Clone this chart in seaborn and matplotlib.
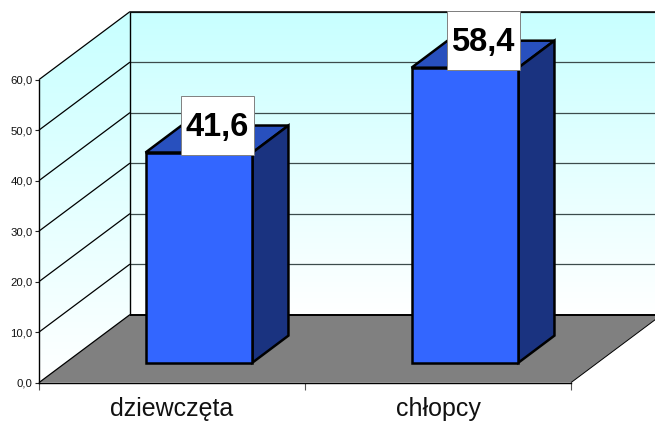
import numpy as np
import pandas as pd
import matplotlib
matplotlib.use('Agg')
import matplotlib.pyplot as plt
import seaborn as sns
from matplotlib.colors import LinearSegmentedColormap
from matplotlib.patches import Polygon, Rectangle
from matplotlib.transforms import Affine2D, IdentityTransform

categories = ['dziewczęta', 'chłopcy']
values = [41.6, 58.4]
value_labels = ['41,6', '58,4']
y_ticks = [0, 10, 20, 30, 40, 50, 60]
y_tick_labels = ['0,0', '10,0', '20,0', '30,0', '40,0', '50,0', '60,0']

# depth of the fake 3d box, in pixels
DX, DY = 91, 68
BAR_DX, BAR_DY = 27, 20
SIDE_DX, SIDE_DY = 36, 27

sns.set_style('white')
plt.rcParams['font.family'] = ['Liberation Sans', 'DejaVu Sans']

fig = plt.figure(figsize=(6.55, 4.21), dpi=100)
ax = fig.add_axes([39 / 655, (421 - 382.6) / 421, 532 / 655, 303 / 421])

df = pd.DataFrame({'group': categories, 'value': values})
sns.barplot(data=df, x='group', y='value', color='#3366FF', saturation=1,
            width=0.402, ax=ax, zorder=5)
ax.set_xlim(-0.5, 1.5)
ax.set_ylim(0, 60)
ax.set_xlabel('')
ax.set_ylabel('')
ax.patch.set_visible(False)


def px(x, y, dx=0, dy=0):
    # data point -> display pixels, with an optional depth shift
    p = ax.transData.transform((x, y))
    return (p[0] + dx, p[1] + dy)


def poly(points, **kw):
    kw.setdefault('clip_on', False)
    patch = Polygon(points, closed=True, transform=IdentityTransform(), **kw)
    ax.add_patch(patch)
    return patch


def line(a, b, color='black', lw=0.9, z=2):
    ax.plot([a[0], b[0]], [a[1], b[1]], color=color, lw=lw, zorder=z,
            transform=IdentityTransform(), clip_on=False, solid_capstyle='butt')


x0, x1 = ax.get_xlim()
y0, y1 = ax.get_ylim()

# walls, light cyan fading to white
cmap = LinearSegmentedColormap.from_list('wall', ['#C8FFFF', '#FFFFFF'])
grad = np.linspace(0, 1, 256).reshape(-1, 1)
back_tr = ax.transData + Affine2D().translate(DX, DY)
ax.imshow(grad, cmap=cmap, aspect='auto', extent=(x0, x1, y0, y1), origin='upper',
          transform=back_tr, zorder=0, clip_on=False)
side_pts = [px(x0, y0), px(x0, y0, DX, DY), px(x0, y1, DX, DY), px(x0, y1)]
side_w = (x1 - x0) * DX / 532
side_h = 60 * (303 + DY) / 303
side_img = ax.imshow(grad, cmap=cmap, aspect='auto', origin='upper',
                     extent=(x0, x0 + side_w, y0, side_h), zorder=0)
side_img.set_clip_box(fig.bbox)
side_img.set_clip_path(Polygon(side_pts, closed=True, transform=IdentityTransform()))
ax.set_xlim(x0, x1)
ax.set_ylim(y0, y1)
ax.set_aspect('auto')

# floor
poly([px(x0, y0), px(x1, y0), px(x1, y0, DX, DY), px(x0, y0, DX, DY)],
     facecolor='#808080', edgecolor='none', zorder=1)
line(px(x0, y0, DX, DY), px(x1, y0, DX, DY), lw=1.4)
line(px(x1, y0), px(x1, y0, DX, DY), lw=0.7)

# gridlines over both walls
for t in y_ticks[1:]:
    line(px(x0, t), px(x0, t, DX, DY))
    line(px(x0, t, DX, DY), px(x1, t, DX, DY), color='#3c4c4c')
line(px(x0, y1, DX, DY), px(x1, y1, DX, DY), color='black', lw=1.1)
line(px(x0, y0), px(x0, y0, DX, DY))
line(px(x0, y0, DX, DY), px(x0, y1, DX, DY), lw=1.0)

# bars: shift the seaborn faces back and add top and side
shift = Affine2D().translate(BAR_DX, BAR_DY)
for bar, v, label in zip(ax.patches[:len(values)], values, value_labels):
    bar.set_transform(ax.transData + shift)
    bar.set_edgecolor('black')
    bar.set_linewidth(1.8)
    bar.set_joinstyle('miter')
    bar.set_clip_on(False)
    xl, xr = bar.get_x(), bar.get_x() + bar.get_width()
    front_l = px(xl, v, BAR_DX, BAR_DY)
    front_r = px(xr, v, BAR_DX, BAR_DY)
    base_r = px(xr, 0, BAR_DX, BAR_DY)
    poly([front_l, front_r, (front_r[0] + SIDE_DX, front_r[1] + SIDE_DY),
          (front_l[0] + SIDE_DX, front_l[1] + SIDE_DY)],
         facecolor='#2850BE', edgecolor='black', lw=1.8, joinstyle='miter', zorder=4)
    poly([base_r, front_r, (front_r[0] + SIDE_DX, front_r[1] + SIDE_DY),
          (base_r[0] + SIDE_DX, base_r[1] + SIDE_DY)],
         facecolor='#1A3380', edgecolor='black', lw=1.8, joinstyle='miter', zorder=4)
    # data label box, 73x59 px sitting on the middle of the bar top
    cx = (front_l[0] + front_r[0]) / 2 + 18
    box_bottom = front_l[1] - 2.5
    ax.add_patch(Rectangle((cx - 36.5, box_bottom), 73, 59, facecolor='white',
                           edgecolor='#808080', lw=0.7, zorder=6, clip_on=False,
                           transform=IdentityTransform()))
    ax.text(cx, box_bottom + 28, label, fontsize=23.5, fontweight='bold', ha='center',
            va='center', color='black', zorder=7, transform=IdentityTransform())

# axes and ticks
sns.despine(ax=ax, top=True, right=True)
for s in ('left', 'bottom'):
    ax.spines[s].set_linewidth(1.0)
    ax.spines[s].set_color('black')
    ax.spines[s].set_zorder(3)
ax.set_yticks(y_ticks)
ax.set_yticklabels(y_tick_labels, fontsize=8.2, color='#111111')
ax.tick_params(axis='y', left=True, length=3, width=0.8, pad=1.5, color='#222222')
ax.set_xticks([0, 1])
ax.set_xticklabels(categories, fontsize=18, color='#111111')
ax.set_xticks([-0.5, 0.5, 1.5], minor=True)
ax.tick_params(axis='x', which='major', bottom=False, pad=7)
ax.tick_params(axis='x', which='minor', bottom=True, length=5, width=0.8, color='#555555')

fig.savefig('out.png', dpi=100)
